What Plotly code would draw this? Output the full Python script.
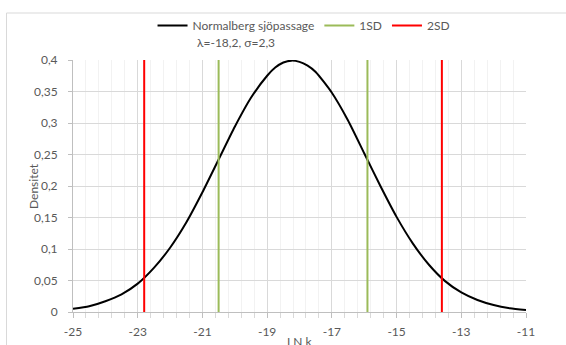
import plotly.graph_objects as go

# Data
ln_k = [-25, -24.5, -24, -23.5, -23, -22.5, -22, -21.5, -21, -20.5, -20, -19.5, -19,
        -18.75, -18.5, -18.25, -18, -17.75, -17.5, -17, -16.5, -16, -15.5, -15, -14.5,
        -14, -13.5, -13, -12.5, -12, -11.5, -11]
densitet = [0.005, 0.009, 0.017, 0.028, 0.045, 0.070, 0.102, 0.142, 0.190, 0.242,
            0.294, 0.340, 0.375, 0.388, 0.396, 0.399, 0.397, 0.391, 0.381, 0.348,
            0.304, 0.252, 0.200, 0.151, 0.109, 0.075, 0.049, 0.031, 0.019, 0.011,
            0.006, 0.003]
sd1_x = [-20.5, -15.9]
sd2_x = [-22.8, -13.6]
line_y = [0, 0.4]

y_ticks = [0, 0.05, 0.1, 0.15, 0.2, 0.25, 0.3, 0.35, 0.4]
y_ticktext = ["0", "0,05", "0,1", "0,15", "0,2", "0,25", "0,3", "0,35", "0,4"]
x_ticks = [-25, -23, -21, -19, -17, -15, -13, -11]
x_ticktext = ["-25", "-23", "-21", "-19", "-17", "-15", "-13", "-11"]

FONT = "Lato, Carlito, Calibri, sans-serif"
GREY = "#595959"

def vlines(xs):
    xx, yy = [], []
    for v in xs:
        xx += [v, v, None]
        yy += [line_y[0], line_y[1], None]
    return xx, yy

fig = go.Figure()
fig.add_trace(go.Scatter(x=ln_k, y=densitet, mode="lines", name="Normalberg sjöpassage",
                         line=dict(color="black", width=2, shape="spline", smoothing=0.6)))
x1, y1 = vlines(sd1_x)
fig.add_trace(go.Scatter(x=x1, y=y1, mode="lines", name="1SD",
                         line=dict(color="#9bbb59", width=2)))
x2, y2 = vlines(sd2_x)
fig.add_trace(go.Scatter(x=x2, y=y2, mode="lines", name="2SD",
                         line=dict(color="#ff0000", width=2)))

fig.update_layout(
    width=566, height=345,
    margin=dict(l=73, r=40, t=60, b=33, autoexpand=False),
    paper_bgcolor="white", plot_bgcolor="white",
    font=dict(family=FONT, size=12, color=GREY),
    separators=", ",
    showlegend=True,
    legend=dict(orientation="h", x=0.51, xanchor="center", y=1.194, yanchor="top",
                font=dict(family=FONT, size=12, color=GREY),
                bgcolor="rgba(0,0,0,0)", itemwidth=30, tracegroupgap=0),
    annotations=[
        dict(text="λ=-18,2, σ=2,3", xref="paper", yref="paper",
             x=0.2693, y=1.0714, xanchor="left", yanchor="middle",
             showarrow=False, font=dict(family=FONT, size=12, color=GREY)),
        dict(text="Densitet", xref="paper", yref="paper", textangle=-90,
             x=-0.0883, y=0.5, xanchor="center", yanchor="middle",
             showarrow=False, font=dict(family=FONT, size=12, color=GREY)),
        dict(text="LN k", xref="paper", yref="paper",
             x=0.5, y=-0.118, xanchor="center", yanchor="middle",
             showarrow=False, font=dict(family=FONT, size=12, color=GREY)),
    ],
    shapes=[
        dict(type="line", xref="paper", yref="paper", x0=-0.1468, x1=-0.1468, y0=-0.3, y1=1.1865,
             line=dict(color="#d9d9d9", width=1)),
        dict(type="line", xref="paper", yref="paper", x0=-0.1468, x1=1.2, y0=1.1865, y1=1.1865,
             line=dict(color="#d9d9d9", width=1)),
    ],
)

fig.update_xaxes(
    range=[-25, -11], tickmode="array", tickvals=x_ticks, ticktext=x_ticktext,
    showgrid=True, gridcolor="#d9d9d9", gridwidth=1,
    showline=True, linecolor="#bfbfbf", linewidth=1,
    ticks="outside", ticklen=5, tickcolor="#bfbfbf",
    ticklabelstandoff=4,
    minor=dict(tick0=-25, dtick=0.4, showgrid=True, gridcolor="#f2f2f2",
               ticks="outside", ticklen=5, tickcolor="#d9d9d9"),
    zeroline=False,
    tickfont=dict(family=FONT, size=12, color=GREY),
)
fig.update_yaxes(
    range=[0, 0.4], tickmode="array", tickvals=y_ticks, ticktext=y_ticktext,
    showgrid=True, gridcolor="#d9d9d9", gridwidth=1,
    showline=True, linecolor="#bfbfbf", linewidth=1,
    ticks="outside", ticklen=4, tickcolor="#bfbfbf",
    ticklabelstandoff=8,
    zeroline=False,
    tickfont=dict(family=FONT, size=12, color=GREY),
)

fig.write_html("out.html", config={"displayModeBar": False},
               post_script="document.body.style.margin='0px';document.body.style.overflow='hidden';")
